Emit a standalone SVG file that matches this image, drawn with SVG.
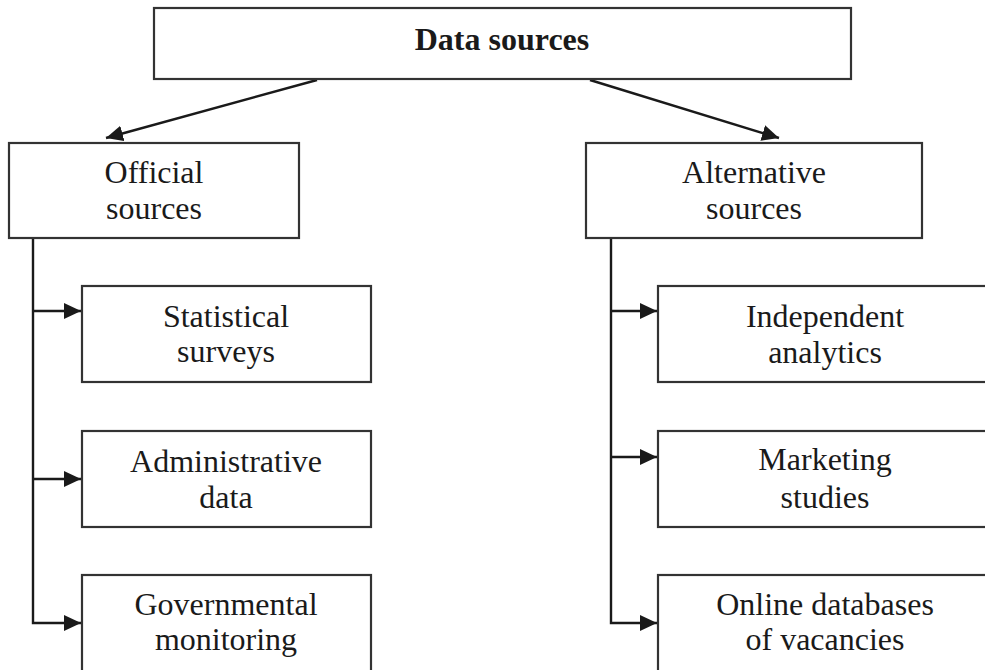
<svg xmlns="http://www.w3.org/2000/svg" width="985" height="670" viewBox="0 0 985 670">
<style>
.box{fill:#fff;stroke:#333;stroke-width:2.2}
.t{font-family:"Liberation Serif","Times New Roman",serif;font-size:32px;fill:#1a1a1a;text-anchor:middle}
.b{font-weight:bold}
.c{fill:none;stroke:#1a1a1a;stroke-width:2.4}
</style>
<defs>
<marker id="ah" markerUnits="userSpaceOnUse" markerWidth="18" markerHeight="16" refX="17" refY="8" orient="auto">
<path d="M0,0 L17,8 L0,16 Z" fill="#1a1a1a"/>
</marker>
</defs>
<rect width="985" height="670" fill="#fff"/>
<g id="connectors">
<line class="c" x1="317" y1="80" x2="106" y2="138" marker-end="url(#ah)"/>
<line class="c" x1="590" y1="80" x2="779" y2="138" marker-end="url(#ah)"/>
<polyline class="c" points="33,238 33,623 81,623" marker-end="url(#ah)"/>
<line class="c" x1="33" y1="311" x2="81" y2="311" marker-end="url(#ah)"/>
<line class="c" x1="33" y1="479" x2="81" y2="479" marker-end="url(#ah)"/>
<polyline class="c" points="611,238 611,623 657,623" marker-end="url(#ah)"/>
<line class="c" x1="611" y1="311" x2="657" y2="311" marker-end="url(#ah)"/>
<line class="c" x1="611" y1="457" x2="657" y2="457" marker-end="url(#ah)"/>
</g>
<g id="data-sources">
<rect class="box" x="154" y="8" width="697" height="71"/>
<text class="t b" x="502" y="50">Data sources</text>
</g>
<g id="official">
<rect class="box" x="9" y="143" width="290" height="95"/>
<text class="t" x="154" y="183">Official</text>
<text class="t" x="154" y="219">sources</text>
</g>
<g id="statistical">
<rect class="box" x="82" y="286" width="289" height="96"/>
<text class="t" x="226" y="327">Statistical</text>
<text class="t" x="226" y="362">surveys</text>
</g>
<g id="administrative">
<rect class="box" x="82" y="431" width="289" height="96"/>
<text class="t" x="226" y="472">Administrative</text>
<text class="t" x="226" y="508">data</text>
</g>
<g id="governmental">
<rect class="box" x="82" y="575" width="289" height="110"/>
<text class="t" x="226" y="615">Governmental</text>
<text class="t" x="226" y="650">monitoring</text>
</g>
<g id="alternative">
<rect class="box" x="586" y="143" width="336" height="95"/>
<text class="t" x="754" y="183">Alternative</text>
<text class="t" x="754" y="219">sources</text>
</g>
<g id="independent">
<rect class="box" x="658" y="286" width="335" height="96"/>
<text class="t" x="825" y="327">Independent</text>
<text class="t" x="825" y="363">analytics</text>
</g>
<g id="marketing">
<rect class="box" x="658" y="431" width="335" height="96"/>
<text class="t" x="825" y="470">Marketing</text>
<text class="t" x="825" y="508">studies</text>
</g>
<g id="online">
<rect class="box" x="658" y="575" width="335" height="110"/>
<text class="t" x="825" y="615">Online databases</text>
<text class="t" x="825" y="650">of vacancies</text>
</g>
</svg>
